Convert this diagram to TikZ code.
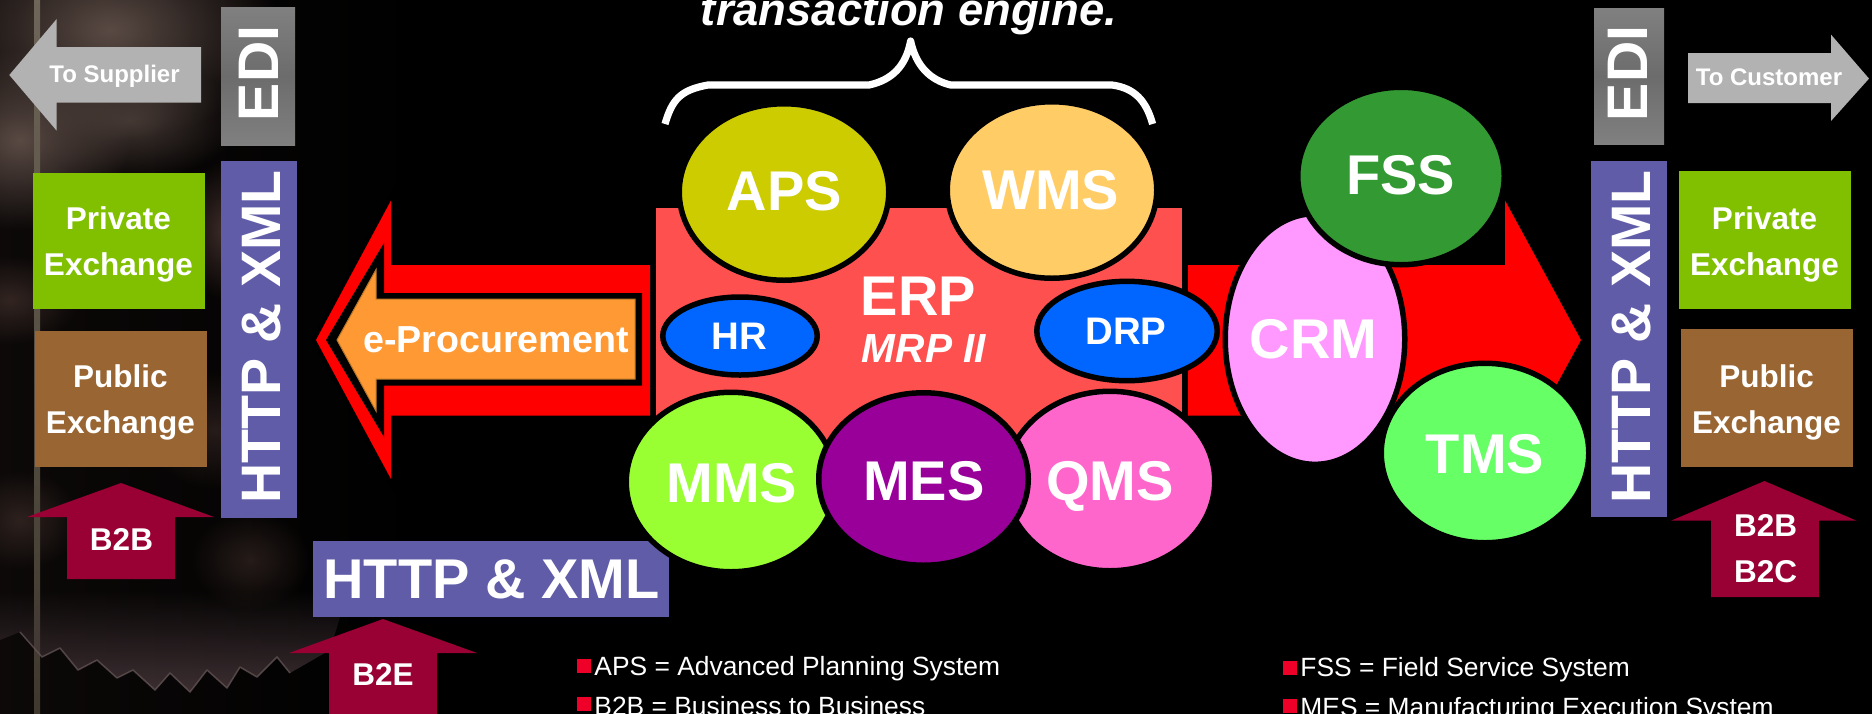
\documentclass[tikz,border=0pt]{standalone}
\usepackage{fontspec}
\setmainfont{Liberation Sans}
\usetikzlibrary{shapes.geometric,fadings}
\definecolor{cHttp}{HTML}{605CA8}
\definecolor{cPriv}{HTML}{80C000}
\definecolor{cPub}{HTML}{996633}
\definecolor{cB}{HTML}{990033}
\definecolor{cOrange}{HTML}{FF9933}
\definecolor{cOrangeE}{HTML}{B8762A}
\definecolor{cErp}{HTML}{FF5050}
\definecolor{cAps}{HTML}{CCCC00}
\definecolor{cWms}{HTML}{FFCC66}
\definecolor{cBlue}{HTML}{0066FF}
\definecolor{cMms}{HTML}{99FF33}
\definecolor{cMes}{HTML}{990099}
\definecolor{cQms}{HTML}{FF66CC}
\definecolor{cCrm}{HTML}{FF99FF}
\definecolor{cFss}{HTML}{339933}
\definecolor{cTms}{HTML}{66FF66}
\definecolor{cGrey}{HTML}{B2B2B2}
\definecolor{cSq}{HTML}{EE0028}
\definecolor{cGlow}{HTML}{5A4A44}
\definecolor{cGlowB}{HTML}{3C2C28}
\definecolor{cBand}{HTML}{46363A}
\definecolor{cTip}{HTML}{6A5A5A}
\definecolor{cPoleT}{HTML}{6E6658}
\definecolor{cPoleB}{HTML}{3E382E}
\definecolor{cEdiE}{HTML}{808080}
\definecolor{cEdiM}{HTML}{6C6C6C}
\tikzfading[name=blobfade, inner color=transparent!0, outer color=transparent!100]
\tikzfading[name=bandfade, top color=transparent!100, bottom color=transparent!15]
\tikzset{
  x=0.5pt, y=-0.5pt,
  lbl/.style={text=white, inner sep=0pt, anchor=base, font=\bfseries},
  stack/.style={text=white, inner sep=0pt, anchor=center, align=center,
    font=\bfseries\fontsize{15.75}{22.75}\selectfont},
  vertbig/.style={lbl, rotate=90, font=\bfseries\fontsize{27.8}{34}\selectfont},
  vertedi/.style={lbl, rotate=90, font=\bfseries\fontsize{28.6}{34}\selectfont},
  oval/.style={ellipse, draw=black, line width=2.75pt, inner sep=0pt},
  panel/.style={rectangle, inner sep=0pt, draw=none},
  ediface/.style={top color=cEdiE, bottom color=cEdiE, middle color=cEdiM},
  big/.style={lbl, font=\bfseries\fontsize{28}{34}\selectfont},
  mid/.style={lbl, font=\bfseries\fontsize{19.2}{24}\selectfont},
  small/.style={lbl, font=\bfseries\fontsize{15.75}{20}\selectfont},
  legend/.style={text=white, inner sep=0pt, anchor=base west,
    font=\fontsize{13.2}{16}\selectfont},
  sq/.style={fill=cSq},
  glow/.style={path fading=blobfade},
}
\newcommand{\ovalnode}[6]{\node[oval, fill=#6, minimum width=#4 pt, minimum height=#5 pt] (#1) at (#2,#3) {};}
\newcommand{\panelnode}[6]{\node[panel, #6, minimum width=#4*0.5pt, minimum height=#5*0.5pt] (#1) at (#2,#3) {};}
\begin{document}
\begin{tikzpicture}
\useasboundingbox (0,0) rectangle (1872,713);
\clip (-4,-4) rectangle (1876,717);
\fill[black] (-4,-4) rectangle (1876,717);
% dark photographic background, left side
\shade[left color=black!80!cGlowB, right color=black] (-4,-4) rectangle (420,717);
\fill[cGlow, glow] (110,30) ellipse (170 and 110);
\fill[cGlow, glow] (20,140) ellipse (110 and 90);
\fill[cGlow, glow, opacity=.7] (130,120) ellipse (110 and 60);
\fill[cGlowB, glow, opacity=.8] (10,300) ellipse (70 and 45);
\fill[cGlowB, glow] (225,230) ellipse (45 and 70);
\fill[cGlowB, glow, opacity=.6] (215,430) ellipse (70 and 60);
\fill[cGlowB, glow, opacity=.7] (20,520) ellipse (60 and 50);
\fill[cGlowB, glow, opacity=.6] (250,560) ellipse (60 and 50);
\shade[top color=cPoleT, bottom color=cPoleB] (34,-4) rectangle (40,717);
\fill[cBand, path fading=bandfade]
  (0,590) -- (150,590) -- (340,590) -- (340,617)
  -- (330,650) -- (290,673) -- (277,657) -- (257,677) -- (240,667) -- (227,688) -- (207,670)
  -- (190,692) -- (170,673) -- (155,690) -- (133,670) -- (117,678) -- (97,660) -- (78,670)
  -- (60,648) -- (42,657) -- (20,632) -- (0,640) -- cycle;
\draw[cTip, opacity=.7, line width=.75pt, line join=round] (20,632) -- (42,657) -- (60,648) -- (78,670) -- (97,660)
  -- (117,678) -- (133,670) -- (155,690) -- (170,673) -- (190,692) -- (207,670) -- (227,688)
  -- (240,667) -- (257,677) -- (277,657) -- (290,673);

% left column
\panelnode{ediL}{258}{76}{74}{138}{ediface}
\node[vertedi] (ediLt) at (278,73.4) {EDI};
\panelnode{httpL}{259}{339.5}{76}{357}{fill=cHttp}
\node[vertbig] (httpLt) at (280,337) {HTTP \& XML};
\fill[cGrey] (9.3,75) -- (56.7,19) -- (56.7,47) -- (201,47) -- (201,102.7) -- (56.7,102.7) -- (56.7,130.7) -- cycle;
\node[lbl, font=\bfseries\fontsize{12}{14}\selectfont] (toSup) at (114.5,82.7) {To Supplier};
\panelnode{privL}{119}{241}{172}{136}{fill=cPriv}
\node[stack] (privLt) at (118.4,244.4) {Private\\Exchange};
\panelnode{pubL}{121}{399}{172}{136}{fill=cPub}
\node[stack] (pubLt) at (120.4,402.5) {Public\\Exchange};
\fill[cB] (121,483) -- (214,517) -- (175,517) -- (175,579) -- (67,579) -- (67,517) -- (27,517) -- cycle;
\node[small] (b2bL) at (121.5,550) {B2B};

% bottom http and B2E
\panelnode{httpB}{491}{579}{356}{76}{fill=cHttp}
\node[lbl, font=\bfseries\fontsize{28}{34}\selectfont] (httpBt) at (491.5,598) {HTTP \& XML};
\fill[cB] (383,619) -- (477,653) -- (437,653) -- (437,720) -- (329,720) -- (329,653) -- (289,653) -- cycle;
\node[small] (b2e) at (383,685.8) {B2E};

% left red arrow with dark halo
\draw[black, line width=4pt, miter limit=10] (316,340) -- (391,200.5) -- (391,265) -- (650,265)
  -- (650,415.5) -- (391,415.5) -- (391,479) -- cycle;
\fill[red] (316,340) -- (391,200.5) -- (391,265) -- (650,265)
  -- (650,415.5) -- (391,415.5) -- (391,479) -- cycle;
\fill[black] (326,340) -- (384,243) -- (384,293) -- (642,293) -- (642,385.5) -- (384,385.5) -- (384,437) -- cycle;
\filldraw[fill=cOrange, draw=cOrangeE, line width=.5pt] (337,340) -- (376,269.6) -- (376,299) -- (635,299)
  -- (635,379) -- (376,379) -- (376,411) -- cycle;
\node[lbl, font=\bfseries\fontsize{18.8}{22}\selectfont] (eproc) at (496,352.4) {e-Procurement};

% right red arrow
\fill[red] (1188,265) -- (1505,265) -- (1505,200.5) -- (1581,340) -- (1505,479) -- (1505,415.5) -- (1188,415.5) -- cycle;

% brace and heading
\draw[white, line width=3.6pt, line join=round] (665,124) .. controls (672,100) and (680,90) .. (708,85)
  -- (869,85) .. controls (892,80) and (906,66) .. (910.6,41) .. controls (916,66) and (930,80) .. (950.6,85)
  -- (1112,85) .. controls (1134,88) and (1146,100) .. (1152.6,124);
\node[lbl, font=\bfseries\itshape\fontsize{22.7}{27}\selectfont] (head) at (909,25) {transaction engine.};

% ERP block
\panelnode{erp}{919}{329}{526}{242}{fill=cErp}
\node[lbl, font=\bfseries\fontsize{28}{34}\selectfont] (erpt) at (918.5,315) {ERP};
\node[lbl, font=\bfseries\itshape\fontsize{20.3}{24}\selectfont] (mrp) at (924,362.4) {MRP II};

\ovalnode{aps}{784}{192}{104.75}{88.25}{cAps}
\node[big] (apst) at (784.5,210.5) {APS};
\ovalnode{wms}{1052}{190}{104.75}{88.25}{cWms}
\node[big] (wmst) at (1050.6,209) {WMS};
\ovalnode{hr}{740}{336}{77.2}{39}{cBlue}
\node[mid] (hrt) at (739,349) {HR};
\ovalnode{drp}{1127}{331}{90.2}{49.7}{cBlue}
\node[mid] (drpt) at (1126,344) {DRP};
\ovalnode{mms}{731}{482}{104.75}{89.75}{cMms}
\node[big] (mmst) at (732,502.5) {MMS};
\ovalnode{qms}{1110}{481}{104.75}{89.75}{cQms}
\node[big] (qmst) at (1110,500) {QMS};
\ovalnode{mes}{923.5}{479}{104.75}{86.25}{cMes}
\node[big] (mest) at (924,500) {MES};

% right cluster
\ovalnode{crm}{1315}{339}{89.75}{125.35}{cCrm}
\node[big] (crmt) at (1313.6,358) {CRM};
\ovalnode{fss}{1401}{176}{103.25}{88.75}{cFss}
\node[big] (fsst) at (1400.6,194.6) {FSS};
\ovalnode{tms}{1485}{453}{103.75}{89.75}{cTms}
\node[big] (tmst) at (1485,473) {TMS};

% right column
\panelnode{ediR}{1629}{76}{70}{136}{ediface}
\node[vertedi] (ediRt) at (1647.5,73.4) {EDI};
\panelnode{httpR}{1629}{339}{76}{356}{fill=cHttp}
\node[vertbig] (httpRt) at (1650,337) {HTTP \& XML};
\fill[cGrey] (1688,53) -- (1831,53) -- (1831,34.6) -- (1869,78.6) -- (1831,121) -- (1831,103) -- (1688,103) -- cycle;
\node[lbl, font=\bfseries\fontsize{12}{14}\selectfont] (toCus) at (1769,85.5) {To Customer};
\panelnode{privR}{1765}{240}{172}{138}{fill=cPriv}
\node[stack] (privRt) at (1764.5,244.4) {Private\\Exchange};
\panelnode{pubR}{1767}{398}{172}{138}{fill=cPub}
\node[stack] (pubRt) at (1766.5,402.5) {Public\\Exchange};
\fill[cB] (1764.5,481) -- (1856.5,520.7) -- (1819,520.7) -- (1819,597) -- (1711,597) -- (1711,520.7) -- (1671,520.7) -- cycle;
\node[stack] (b2bR) at (1765.5,548.5) {B2B\\B2C};

% legend
\fill[sq] (577.3,659.3) rectangle (591.3,673.3);
\node[legend] (l1) at (594,675) {APS = Advanced Planning System};
\fill[sq] (577.3,697.3) rectangle (591.3,711.3);
\node[legend] (l2) at (594,715) {B2B = Business to Business};
\fill[sq] (1283.3,661) rectangle (1297.3,675);
\node[legend] (l3) at (1300,676.7) {FSS = Field Service System};
\fill[sq] (1283.3,699.3) rectangle (1297.3,713.3);
\node[legend] (l4) at (1300,716.7) {MES = Manufacturing Execution System};
\end{tikzpicture}
\end{document}
